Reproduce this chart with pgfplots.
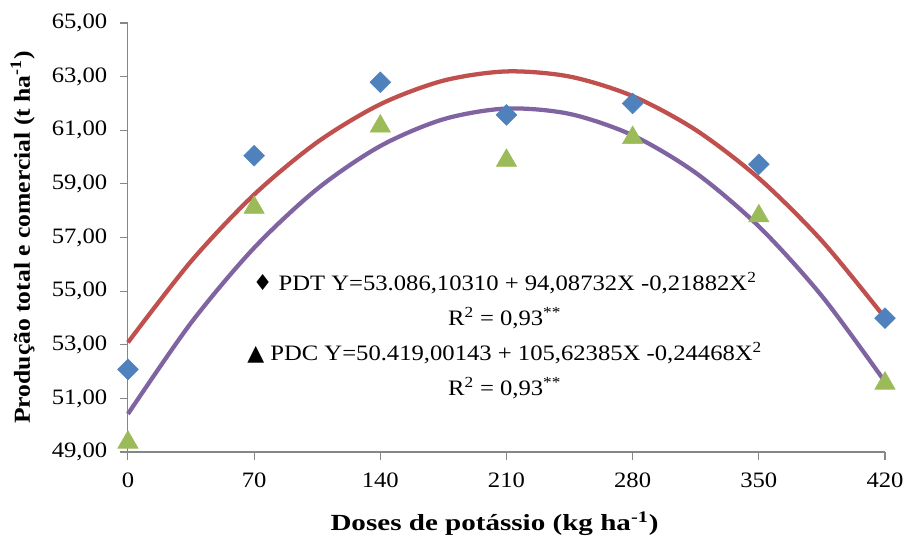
\documentclass[border=0pt]{standalone}
\usepackage{pgfplots}
\pgfplotsset{compat=1.18}
\usepackage{fontspec}
\setmainfont{Liberation Serif}[FakeStretch=1.12]
\newfontfamily\sym{DejaVu Sans}
\definecolor{pdtblue}{HTML}{4F81BD}
\definecolor{pdcgreen}{HTML}{9BBB59}
\definecolor{fitred}{HTML}{C0504D}
\definecolor{fitpurple}{HTML}{8064A2}
\definecolor{axgray}{HTML}{868686}

\pgfplotstableread{
x    pdt    pdc
0    52.08  49.36
70   60.05  58.12
140  62.79  61.15
210  61.57  59.87
280  62.00  60.72
350  59.73  57.80
420  53.99  51.56
}\medias

% curvas ajustadas
\pgfplotstableread{
x    pdt     pdc
0    53.086  50.419
35   56.111  53.816
70   58.600  56.614
105  60.553  58.812
140  61.969  60.411
175  62.850  61.410
210  63.194  61.810
245  63.003  61.610
280  62.275  60.811
315  61.011  59.412
350  59.211  57.414
385  56.875  54.816
420  54.003  51.619
}\ajuste

\begin{document}
\begin{tikzpicture}
\begin{axis}[
  scale only axis,
  width=567.75pt, height=321.75pt,
  xmin=0, xmax=420, ymin=49, ymax=65,
  xtick={0,70,...,420}, ytick={49,51,...,65},
  axis x line=bottom, axis y line=left,
  axis line style={-, axgray, line width=0.8pt},
  tick style={axgray, line width=0.8pt},
  tick align=outside, major tick length=6pt,
  font=\fontsize{16.5}{19}\selectfont,
  /pgf/number format/assume math mode=true,
  yticklabel style={xshift=-6pt, /pgf/number format/.cd, fixed, fixed zerofill, precision=2, use comma},
  xticklabel style={yshift=-6pt, /pgf/number format/.cd, fixed, precision=0},
  xlabel={\scalebox{1.18}[1.05]{\textbf{Doses de potássio (kg ha\textsuperscript{-1})}}},
  ylabel={\scalebox{1.04}{\textbf{Produção total e comercial (t ha\textsuperscript{-1})}}},
  xlabel style={yshift=-11pt, xshift=-9pt},
  ylabel style={yshift=6pt},
  clip=false,
]
\path (rel axis cs:-0.169,-0.1935) rectangle (rel axis cs:1.0304,1.0536);

\addplot[fitred, line width=3.2pt, smooth] table[x=x, y=pdt] {\ajuste};
\addplot[fitpurple, line width=3.2pt, smooth] table[x=x, y=pdc] {\ajuste};
\addplot[only marks, mark=square*, mark size=5.5pt, mark options={rotate=45, fill=pdtblue, draw=pdtblue}] table[x=x, y=pdt] {\medias};
\addplot[only marks, mark=triangle*, mark size=8.8pt, mark options={fill=pdcgreen, draw=pdcgreen}] table[x=x, y=pdc] {\medias};

\node at (axis cs:209,55.30) {{\sym ♦} PDT Y=53.086,10310 + 94,08732X -0,21882X\textsuperscript{2}};
\node at (axis cs:209,54.00) {R\textsuperscript{2} = 0,93\textsuperscript{**}};
\node at (axis cs:209,52.69) {{\sym ▲} PDC Y=50.419,00143 + 105,62385X -0,24468X\textsuperscript{2}};
\node at (axis cs:209,51.39) {R\textsuperscript{2} = 0,93\textsuperscript{**}};
\end{axis}
\end{tikzpicture}
\end{document}
